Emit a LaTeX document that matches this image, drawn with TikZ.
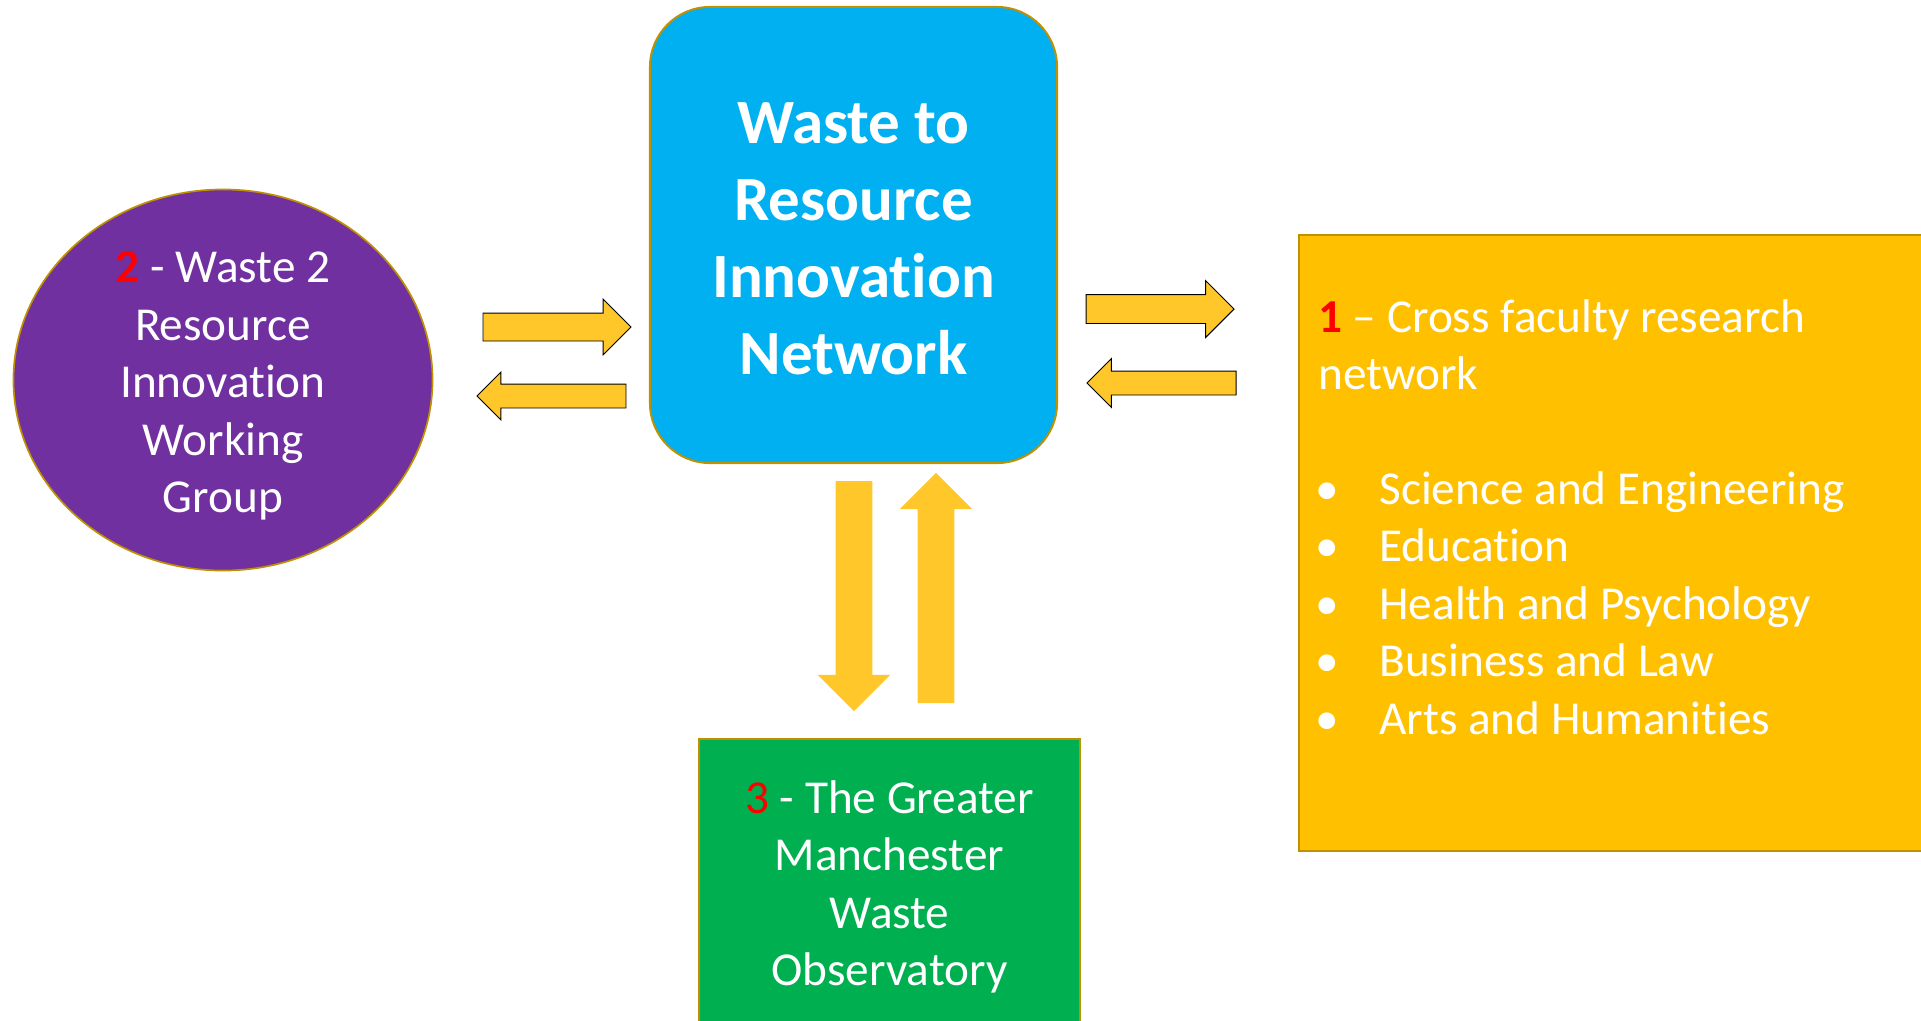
\documentclass[tikz,border=0pt]{standalone}
\usepackage{fontspec}
\setmainfont{Carlito}[Ligatures={TeX,NoCommon}]
\usepackage{xcolor}
\usepackage{tikz}
\usetikzlibrary{shapes.geometric,shapes.arrows}
\definecolor{hubblue}{HTML}{00B0F0}
\definecolor{grouppurple}{HTML}{7030A0}
\definecolor{facorange}{HTML}{FFC000}
\definecolor{obsgreen}{HTML}{00B050}
\definecolor{rimgold}{HTML}{BF9000}
\definecolor{flowyellow}{HTML}{FFC729}
\definecolor{numred}{HTML}{FF0000}
\tikzset{
  hub/.style={rectangle, rounded corners=1.5cm, draw=rimgold, line width=1.4pt, fill=hubblue, inner sep=0pt, minimum width=10.175cm, minimum height=11.4cm, align=center, text=white, font=\fontsize{44.8}{54.8}\selectfont\bfseries},
  group/.style={ellipse, draw=rimgold, line width=1.2pt, fill=grouppurple, inner sep=0pt, minimum width=10.475cm, minimum height=9.525cm},
  panel/.style={rectangle, draw=rimgold, line width=1.8pt, inner sep=0pt},
  lbl/.style={inner sep=0pt, text=white, font=\fontsize{33.6}{40.9}\selectfont},
  flow/.style={single arrow, draw=black, line width=0.7pt, fill=flowyellow, outer sep=0pt, anchor=tail}, % outlined side arrows
  bigflow/.style={single arrow, draw=none, fill=flowyellow, outer sep=0pt, anchor=tail, inner sep=0.45cm, single arrow head extend=0.45cm, minimum height=5.75cm}
}

\begin{document}
\begin{tikzpicture}[x=0.025cm, y=-0.025cm]
  \useasboundingbox (0,0) rectangle (1921,1020);

  % Main boxes
  \node[hub] (hub) at (853.5,235) {};
  \node[hub, draw=none, fill=none] (hubTxt) at (853.5,239) {Waste to\\Resource\\Innovation\\Network};
  \node[group] (group) at (223,380) {};
  \node[panel, fill=facorange, minimum width=16.15cm, minimum height=15.4cm] (faculty) at (1622,543) {};
  \node[panel, fill=obsgreen, minimum width=9.525cm, minimum height=7.65cm] (obs) at (889.5,892) {};

  % Texts
  \node[lbl, align=center] (groupTxt) at (223,386) {{\color{numred}\bfseries 2} - Waste 2\\Resource\\Innovation\\Working\\Group};
  \node[lbl, align=left, anchor=north west] (facHead) at (1318,299) {{\color{numred}\bfseries 1} – Cross faculty research\\network};
  \node[lbl, align=left, anchor=north west] (facList) at (1315,471) {%
    \makebox[45.6pt][l]{\textbullet}Science and Engineering\\
    \makebox[45.6pt][l]{\textbullet}Education\\
    \makebox[45.6pt][l]{\textbullet}Health and Psychology\\
    \makebox[45.6pt][l]{\textbullet}Business and Law\\
    \makebox[45.6pt][l]{\textbullet}Arts and Humanities};
  \node[lbl, align=center] (obsTxt) at (889.5,887) {{\color{numred}3} - The Greater\\Manchester\\Waste\\Observatory};

  % Arrows between the group and the hub
  \node[flow, inner sep=0.3375cm, single arrow head extend=0.35cm, minimum height=3.7cm] (w2rIn) at (483,327) {};
  \node[flow, inner sep=0.2875cm, single arrow head extend=0.3cm, minimum height=3.725cm, shape border rotate=180] (w2rOut) at (626,396) {};

  % Arrows between the hub and the faculties
  \node[flow, inner sep=0.35cm, single arrow head extend=0.35cm, minimum height=3.7cm] (facOut) at (1086,309) {};
  \node[flow, inner sep=0.2875cm, single arrow head extend=0.3125cm, minimum height=3.725cm, shape border rotate=180] (facIn) at (1236,383) {};

  % Arrows between the hub and the observatory
  \node[bigflow, shape border rotate=270] (obsDown) at (854,481) {};
  \node[bigflow, shape border rotate=90] (obsUp) at (936,703) {};

\end{tikzpicture}
\end{document}
